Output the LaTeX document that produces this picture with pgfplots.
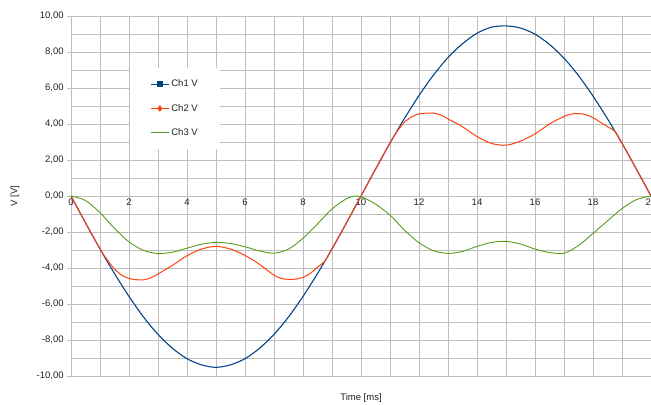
\documentclass[border=0pt]{standalone}
\usepackage{fontspec}
\setmainfont{Liberation Sans}
\usepackage{pgfplots}
\pgfplotsset{compat=1.18}
\definecolor{c1}{HTML}{004586}
\definecolor{c2}{HTML}{FF420E}
\definecolor{c3}{HTML}{579D1C}
\definecolor{gridc}{HTML}{BEBEBE}
\definecolor{txt}{HTML}{222222}
\begin{document}
\fontsize{9.5}{11}\selectfont
\begin{tikzpicture}
\begin{axis}[name=ax, scale only axis, width=580pt, height=360pt,
 xmin=0, xmax=20, ymin=-10, ymax=10,
 axis x line*=middle, axis y line*=left,
 axis line style={draw=gridc, line width=0.8pt},
 xtick={0,2,...,20}, minor xtick={1,3,...,19},
 ytick={-10,-8,...,10}, minor ytick={-9,-7,...,9},
 grid=both,
 major grid style={draw=gridc, line width=0.8pt},
 minor grid style={draw=gridc, line width=0.8pt},
 xtick style={/pgfplots/major tick length=0pt, /pgfplots/minor tick length=0pt},
 ytick style={draw=gridc, line width=0.8pt},
 minor tick length=0pt, major tick length=4pt,
 ytick align=outside,
 hide obscured x ticks=false, hide obscured y ticks=false,
 ticklabel style={font=\fontsize{9.5}{11}\selectfont, text=txt},
 yticklabel style={/pgf/number format/.cd, fixed, fixed zerofill, precision=2, use comma},
 /pgf/number format/assume math mode=true,
 xlabel={Time [ms]}, ylabel={V [V]},
 x label style={at={(axis description cs:0.5,-0.0611)}, anchor=center, font=\fontsize{9.5}{11}\selectfont, text=txt},
 y label style={at={(axis description cs:-0.0966,0.5)}, anchor=center, font=\fontsize{9.5}{11}\selectfont, text=txt},
 legend style={at={(axis description cs:0.102,0.856)}, anchor=north west, draw=none, fill=white,
   font=\fontsize{9.5}{11}\selectfont, text=txt, row sep=12pt, inner xsep=20pt, inner ysep=10pt},
 legend cell align=left,
 legend image code/.code={\draw[mark repeat=2,mark phase=2,#1] plot coordinates {(0pt,0pt) (9pt,0pt) (18pt,0pt)};},
]
\addlegendimage{c1, line width=1pt, mark=square*, mark size=2.4pt}
\addlegendimage{c2, line width=0.9pt, mark=diamond*, mark size=2.6pt}
\addlegendimage{c3, line width=0.9pt}
\addplot[c1, line width=1.1pt, smooth, forget plot] coordinates {
(0,0) (0.5,-1.49) (1,-2.94) (1.5,-4.31) (2,-5.58) (2.5,-6.72) (3,-7.69) (3.5,-8.46) (4,-9.04) (4.5,-9.38) (5,-9.52)
(5.5,-9.38) (6,-9.04) (6.5,-8.46) (7,-7.69) (7.5,-6.72) (8,-5.58) (8.5,-4.31) (9,-2.94) (9.5,-1.49) (10,0)
(10.5,1.49) (11,2.94) (11.5,4.31) (12,5.58) (12.5,6.72) (13,7.69) (13.5,8.46) (14,9.04) (14.5,9.38) (15,9.45)
(15.5,9.33) (16,8.99) (16.5,8.42) (17,7.65) (17.5,6.69) (18,5.55) (18.5,4.29) (19,2.93) (19.5,1.48) (20,0)
};
\addplot[c2, line width=1pt, smooth, forget plot] coordinates {
(0,0) (0.5,-1.49) (1,-2.94) (1.25,-3.55) (1.5,-4.05) (1.75,-4.4) (2,-4.58) (2.25,-4.65) (2.5,-4.66) (2.75,-4.55)
(3,-4.33) (3.5,-3.85) (4,-3.32) (4.5,-2.95) (5,-2.8) (5.5,-2.95) (6,-3.3) (6.5,-3.8) (7,-4.4) (7.25,-4.58)
(7.5,-4.63) (7.75,-4.62) (8,-4.52) (8.25,-4.3) (8.5,-3.95) (8.75,-3.62) (9,-2.94) (9.5,-1.49) (10,0)
(10.5,1.49) (11,2.94) (11.25,3.6) (11.5,4.1) (11.75,4.4) (12,4.56) (12.25,4.6) (12.5,4.6) (12.75,4.5)
(13,4.28) (13.5,3.85) (14,3.3) (14.5,2.92) (15,2.82) (15.5,3.05) (16,3.45) (16.5,4.0) (17,4.42) (17.25,4.55)
(17.5,4.58) (17.75,4.52) (18,4.35) (18.25,4.1) (18.5,3.85) (18.75,3.6) (19,2.94) (19.5,1.48) (20,0)
};
\addplot[c3, line width=0.9pt, smooth, forget plot] coordinates {
(0,0) (0.5,-0.25) (1,-0.93) (1.5,-1.8) (2,-2.55) (2.5,-3.02) (3,-3.2) (3.5,-3.12) (4,-2.9) (4.5,-2.68)
(5,-2.58) (5.5,-2.64) (6,-2.82) (6.5,-3.05) (7,-3.18) (7.5,-2.95) (8,-2.35) (8.5,-1.55) (9,-0.72) (9.5,-0.15)
(9.85,0) (10.1,-0.1) (10.5,-0.45) (11,-1.06) (11.5,-1.9) (12,-2.6) (12.5,-3.04) (13,-3.19) (13.5,-3.08) (14,-2.8)
(14.5,-2.58) (15,-2.52) (15.5,-2.67) (16,-2.95) (16.5,-3.14) (17,-3.18) (17.5,-2.75) (18,-2.08) (18.5,-1.38)
(19,-0.7) (19.5,-0.2) (20,0)
};
\legend{Ch1 V, Ch2 V, Ch3 V}
\end{axis}
\pgfresetboundingbox
\path[use as bounding box] ([xshift=-71pt,yshift=-29pt]ax.south west) rectangle ([yshift=16pt]ax.north east);
\end{tikzpicture}
\end{document}
